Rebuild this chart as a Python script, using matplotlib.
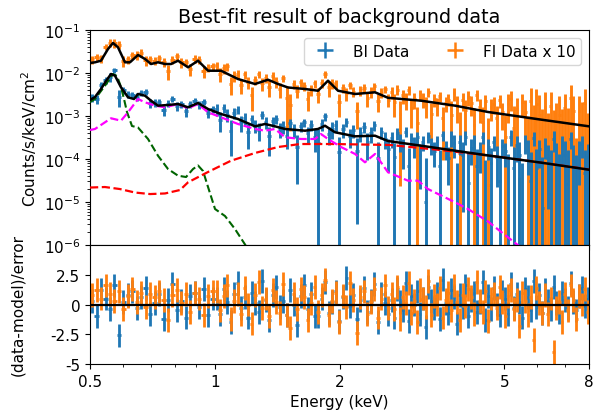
import numpy as np
import matplotlib
matplotlib.use("Agg")
import matplotlib.pyplot as plt
from matplotlib.ticker import FixedLocator, NullFormatter
from matplotlib.lines import Line2D

# ---------------- data ----------------
# bin centre energies (keV)
energy = [
    0.5062, 0.5189, 0.5319, 0.5452, 0.5589, 0.5729, 0.5873, 0.6020, 0.6171, 0.6326,
    0.6484, 0.6647, 0.6813, 0.6984, 0.7159, 0.7338, 0.7522, 0.7711, 0.7904, 0.8102,
    0.8305, 0.8513, 0.8726, 0.8945, 0.9169, 0.9399, 0.9634, 0.9876,
    1.0098, 1.0297, 1.0499, 1.0706, 1.0917, 1.1131, 1.1350, 1.1574, 1.1802, 1.2034,
    1.2271, 1.2512, 1.2758, 1.3009, 1.3265, 1.3526, 1.3792, 1.4064, 1.4341, 1.4623,
    1.4911, 1.5204, 1.5503, 1.5808, 1.6119, 1.6436, 1.6760, 1.7090, 1.7426, 1.7769,
    1.8118, 1.8475, 1.8838, 1.9209, 1.9587, 1.9972, 2.0365, 2.0766, 2.1174, 2.1591,
    2.2016, 2.2449, 2.2891, 2.3341, 2.3800, 2.4268, 2.4746, 2.5233, 2.5729, 2.6235,
    2.671, 2.714, 2.757, 2.800, 2.845, 2.890, 2.936, 2.983, 3.030, 3.078,
    3.127, 3.177, 3.228, 3.279, 3.331, 3.384, 3.438, 3.493, 3.548, 3.605,
    3.662, 3.720, 3.780, 3.840, 3.901, 3.963, 4.026, 4.090, 4.155, 4.222,
    4.289, 4.357, 4.427, 4.497, 4.569, 4.641, 4.715, 4.790, 4.866, 4.944,
    5.022, 5.102, 5.183, 5.266, 5.350, 5.435, 5.521, 5.609, 5.698, 5.789,
    5.881, 5.975, 6.070, 6.166, 6.265, 6.364, 6.465, 6.568, 6.673, 6.779,
    6.887, 6.996, 7.108, 7.221, 7.336, 7.452, 7.571, 7.691, 7.814, 7.938]

# BI data, units of 1e-3 counts/s/keV/cm2
bi_val = [
    2.68, 2.50, 5.32, 6.93, 8.09, 11.55, 2.77, 4.01, 3.21, 3.11,
    2.80, 3.49, 3.69, 1.98, 2.03, 2.07, 1.35, 1.94, 2.48, 1.70,
    1.90, 1.29, 1.90, 2.22, 1.86, 2.12, 1.20, 1.46,
    1.43, 0.82, 1.56, 1.08, 0.456, 1.19, 1.40, 0.71, 0.885, 0.415,
    0.84, 0.597, 0.475, 1.07, 0.738, 0.337, 0.758, 0.863, 0.50, 0.566,
    0.339, 0.693, 0.480, 0.191, 0.579, 0.711, 0.40, 0.626, 0.318, 0.23,
    0.643, 0.978, 0.388, 0.50, 0.619, 0.147, 0.488, 0.736, 0.340, 0.466,
    0.155, 0.401, 0.557, 0.251, 0.393, 0.614, 0.106, 0.430, 0.299, 0.172,
    0.3064, 0.1124, 0.4033, 0.2631, 0.1755, 0.4351, 0.0672, 0.2959, 0.2145, 0.3253,
    0.1232, 0.2511, 0.0098, 0.3367, 0.2164, 0.1566, 0.2613, 0.0705, 0.3536, 0.1772,
    0.1074, 0.3167, 0.2340, -0.0433, 0.2483, 0.1244, 0.3304, 0.0284, 0.1832, 0.2444,
    0.0691, 0.1508, 0.3205, -0.0050, 0.1900, 0.0811, 0.2472, 0.1141, 0.0312, 0.2053,
    0.1497, -0.0042, 0.3284, 0.0611, 0.2127, 0.1208, -0.0403, 0.2469, 0.1598, 0.0308,
    0.3096, 0.0622, 0.1679, 0.0072, 0.2017, 0.1072, 0.0151, 0.2952, 0.0866, -0.0141,
    0.2073, 0.1219, 0.0265, 0.2981, 0.0888, -0.0010, 0.1457, 0.2257, 0.0465, 0.1136]
bi_err = [
    0.51, 0.63, 0.86, 1.26, 1.76, 1.75, 1.16, 0.77, 0.55, 0.51,
    0.60, 0.62, 0.58, 0.47, 0.40, 0.35, 0.35, 0.36, 0.37, 0.38,
    0.36, 0.33, 0.33, 0.37, 0.39, 0.34, 0.29, 0.27,
    0.43, 0.40, 0.37, 0.35, 0.34, 0.32, 0.30, 0.28, 0.26, 0.24,
    0.22, 0.20, 0.21, 0.22, 0.23, 0.22, 0.21, 0.20, 0.19, 0.18,
    0.17, 0.17, 0.17, 0.165, 0.163, 0.160, 0.163, 0.167, 0.171, 0.28,
    0.19, 0.21, 0.18, 0.207, 0.186, 0.179, 0.173, 0.167, 0.160, 0.154,
    0.152, 0.153, 0.154, 0.155, 0.156, 0.157, 0.147, 0.138, 0.129, 0.121,
    0.1277, 0.1249, 0.1222, 0.1196, 0.1170, 0.1145, 0.1120, 0.1096, 0.1073, 0.1050,
    0.1027, 0.1005, 0.0983, 0.0962, 0.0941, 0.0921, 0.0901, 0.0882, 0.0863, 0.0844,
    0.0826, 0.1293, 0.1265, 0.1238, 0.1211, 0.1185, 0.1159, 0.1134, 0.1110, 0.1086,
    0.1063, 0.1040, 0.1018, 0.0996, 0.0974, 0.0954, 0.0933, 0.0913, 0.0893, 0.0874,
    0.0855, 0.1360, 0.1330, 0.1301, 0.1274, 0.1247, 0.1219, 0.1193, 0.1167, 0.1143,
    0.1118, 0.1093, 0.1070, 0.1047, 0.1024, 0.1002, 0.1508, 0.1476, 0.1444, 0.1414,
    0.1382, 0.1354, 0.1324, 0.1296, 0.1268, 0.1240, 0.1214, 0.1188, 0.1162, 0.1136]
bi_res = [
    0.3, -1.0, 1.2, 0.5, -0.4, 1.6, -2.6, 0.2, 0.8, 1.1,
    -0.3, 0.6, 1.4, -0.8, 0.1, 0.9, -1.2, 0.4, 1.7, -0.5,
    0.3, -1.1, 0.7, 1.0, -0.2, 1.3, -0.9, 0.5,
    0.5, -0.8, 1.3, 0.2, -1.5, 0.9, 1.8, -0.3, 0.6, -1.1,
    1.0, 0.1, -0.6, 2.0, 0.4, -1.3, 0.8, 1.5, -0.2, 0.3,
    -0.9, 1.2, 0.0, -1.7, 0.7, 1.6, -0.4, 0.9, -1.0, -1.0,
    0.5, 1.9, -0.7, 0.2, 1.1, -1.4, 0.6, 2.2, -0.1, 0.8,
    -1.2, 0.4, 1.4, -0.6, 0.3, 1.7, -1.5, 0.9, 0.1, -0.8,
    0.4, -1.1, 1.3, 0.2, -0.5, 1.8, -1.4, 0.7, 0.0, 1.1,
    -0.8, 0.5, -1.9, 1.5, 0.3, -0.3, 0.9, -1.2, 2.1, 0.1,
    -0.7, 1.2, 0.6, -1.6, 0.8, -0.2, 1.6, -1.0, 0.4, 1.0,
    -0.6, 0.2, 1.9, -1.3, 0.7, -0.4, 1.4, 0.0, -0.9, 1.1,
    0.5, -0.8, 1.7, -0.3, 0.9, 0.2, -1.1, 1.3, 0.6, -0.5,
    2.0, -0.2, 0.8, -0.7, 1.2, 0.3, -0.4, 1.5, 0.1, -0.6,
    1.0, 0.4, -0.3, 1.8, 0.2, -0.5, 0.7, 1.4, -0.1, 0.5]

# FI data, units of 1e-4 counts/s/keV/cm2 (plotted x 10)
fi_val = [
    20.9, 23.7, 21.9, 40.9, 50.3, 50.1, 45.5, 19.2, 20.8, 26.4,
    25.8, 29.8, 19.6, 20.7, 19.4, 22.3, 18.2, 10.9, 20.0, 24.3,
    17.7, 18.0, 12.4, 21.4, 20.6, 11.2, 13.4, 14.4,
    15.0, 9.6, 12.8, 14.3, 5.64, 8.74, 9.28, 5.24, 9.27, 6.18,
    3.04, 6.89, 9.26, 5.73, 7.71, 4.75, 8.53, 6.13, 4.24, 7.61,
    2.6, 1.82, 5.69, 3.88, 6.05, 5.04, 2.54, 4.18, 5.74, 3.23,
    5.89, 9.34, 4.63, 5.72, 5.67, 2.10, 4.45, 3.35, 5.28, 3.71,
    1.31, 3.93, 4.52, 2.61, 3.70, 4.93, 2.22, 3.53, 4.20, 2.41,
    3.619, 2.066, 4.131, 1.110, 2.998, 2.415, 4.091, 1.515, 2.456, 0.688,
    3.191, 2.483, 1.805, 3.688, 1.130, 2.445, 1.818, 2.900, 0.879, 2.010,
    2.417, 1.060, 3.381, 1.780, 0.138, 2.331, 1.360, 2.733, 1.988, 0.603,
    3.125, 1.588, 0.744, 2.223, 0.025, 1.624, 1.919, 0.909, 2.308, 1.256,
    0.324, 1.941, 2.518, 0.525, 1.464, -1.123, 2.081, 1.259, -0.072, 2.218,
    -0.4, 1.9, 1.038, -0.609, 1.6, -0.778, 1.712, -0.5, 0.182, 1.070,
    -0.3, 1.5, -0.167, 2.6, 1.28, -1.25, 1.3, 0.599, 2.0, -0.287]
fi_err = [
    4.35, 4.55, 4.88, 7.30, 10.3, 11.7, 8.9, 5.3, 4.4, 5.0,
    6.2, 6.0, 5.2, 4.2, 4.2, 4.4, 4.1, 4.1, 4.2, 4.7,
    4.3, 3.7, 3.7, 4.3, 4.6, 3.6, 2.9, 2.8,
    3.39, 3.39, 3.18, 2.90, 2.64, 2.41, 2.19, 2.07, 1.96, 1.85,
    1.76, 1.67, 1.77, 1.89, 2.01, 2.04, 1.88, 1.73, 1.61, 1.51,
    2.4, 1.37, 1.34, 1.32, 1.31, 1.28, 1.25, 1.22, 1.19, 1.18,
    1.43, 1.72, 1.90, 1.58, 1.31, 1.15, 1.10, 1.07, 1.03, 0.99,
    0.82, 1.00, 1.02, 1.03, 1.05, 1.07, 1.00, 0.92, 0.85, 0.80,
    1.159, 1.134, 1.110, 1.086, 1.062, 1.040, 1.017, 0.995, 0.974, 0.953,
    0.932, 0.912, 0.893, 0.873, 0.855, 0.837, 0.818, 0.801, 0.783, 0.766,
    0.750, 1.142, 1.117, 1.093, 1.070, 1.046, 1.023, 1.002, 0.980, 0.959,
    0.939, 0.918, 0.898, 0.879, 0.860, 0.842, 0.824, 0.806, 0.788, 0.771,
    0.755, 1.266, 1.238, 1.212, 1.187, 1.162, 1.135, 1.111, 1.087, 2.25,
    2.17, 2.4, 2.075, 2.030, 2.0, 1.945, 1.903, 1.9, 1.823, 1.783,
    1.74, 1.8, 1.670, 2.7, 1.600, 1.565, 1.6, 1.498, 2.2, 1.433]
fi_res = [
    0.8, 1.2, 0.5, 1.6, 0.9, 0.3, 1.1, -0.4, 0.7, 1.3,
    0.2, 1.0, -0.2, 0.9, 0.6, 1.1, 0.4, -1.3, 0.8, 1.2,
    0.1, 0.9, -0.6, 1.0, 0.5, -0.9, 0.7, 1.1,
    1.1, -0.5, 0.7, 1.6, -1.2, 0.3, 0.9, -0.8, 1.4, 0.0,
    -1.6, 0.8, 1.9, -0.3, 0.5, -1.0, 1.2, 0.2, -0.7, 1.7,
    -0.9, -2.0, 0.9, -0.4, 1.3, 0.6, -1.3, 0.1, 1.5, -0.6,
    0.8, 2.1, -0.9, 0.3, 1.0, -1.5, 0.7, -0.2, 1.8, 0.4,
    -2.4, 0.6, 1.1, -0.8, 0.2, 1.3, -1.1, 0.5, 1.6, -0.3,
    0.9, -0.4, 1.5, -1.2, 0.6, 0.1, 1.8, -0.7, 0.3, -1.5,
    1.2, 0.5, -0.2, 2.0, -0.9, 0.7, 0.0, 1.4, -1.1, 0.4,
    1.0, -0.5, 1.6, 0.2, -1.3, 0.8, -0.1, 1.3, 0.6, -0.8,
    1.9, 0.3, -0.6, 1.1, -1.4, 0.5, 0.9, -0.3, 1.5, 0.2,
    -1.0, 0.7, 1.2, -0.4, 0.4, -1.8, 1.0, 0.3, -0.9, 0.6,
    -3.0, 1.4, 0.1, -0.7, 0.8, -0.8, 0.5, -4.0, -0.3, 0.2,
    -1.5, 0.9, -0.5, 1.6, 0.4, -1.2, 0.7, 0.0, 1.3, -0.6]

# best-fit model curves
bi_model_e = [0.500, 0.5141, 0.5315, 0.5465, 0.5619, 0.5745, 0.5940, 0.6176, 0.6385, 0.6528,
              0.6788, 0.7018, 0.7296, 0.7713, 0.8155, 0.8621, 0.9114, 0.9634, 1.0353, 1.1379,
              1.2508, 1.3222, 1.3978, 1.4777, 1.6513, 1.7748, 1.8453, 1.9509, 2.1803, 2.4363,
              2.6189, 3.1458, 3.7999, 4.5643, 6.094, 8.0]
bi_model = [2.355e-3, 2.767e-3, 4.246e-3, 6.516e-3, 9.484e-3, 8.650e-3, 4.645e-3, 2.723e-3, 2.483e-3, 3.251e-3,
            2.965e-3, 2.270e-3, 1.738e-3, 1.803e-3, 1.901e-3, 1.592e-3, 2.004e-3, 1.455e-3, 1.114e-3, 8.51e-4,
            5.75e-4, 6.52e-4, 5.75e-4, 4.99e-4, 4.55e-4, 4.99e-4, 5.94e-4, 4.18e-4, 3.37e-4, 3.48e-4,
            2.62e-4, 2.04e-4, 1.56e-4, 1.21e-4, 8.30e-5, 5.64e-5]
fi_model_e = [0.500, 0.5141, 0.5315, 0.5526, 0.5682, 0.5841, 0.6073, 0.6244, 0.6528, 0.6788,
              0.7018, 0.7296, 0.7586, 0.7843, 0.8155, 0.8621, 0.9114, 0.9634, 1.0353, 1.1379,
              1.2508, 1.3444, 1.4213, 1.5025, 1.6513, 1.7748, 1.8763, 1.9837, 2.1803, 2.4363,
              2.6189, 3.1458, 3.7999, 4.5643, 6.094, 8.0]
# FI model, units of 1e-4 (plotted x 10)
fi_model = [17.10, 17.74, 19.32, 36.14, 49.89, 39.63, 17.74, 17.74, 26.24, 21.18,
            16.18, 17.74, 16.18, 16.18, 19.32, 13.58, 19.32, 11.30, 11.30, 7.24,
            5.55, 6.98, 5.55, 4.60, 4.25, 3.87, 6.62, 3.87, 3.25, 3.56,
            2.65, 2.27, 1.74, 1.24, 0.830, 0.575]

# model components (BI)
thermal_e = [0.500, 0.5141, 0.5619, 0.5940, 0.6176, 0.6528, 0.6788, 0.7175, 0.7586, 0.8155,
             0.8621, 0.9114, 0.9634, 1.0353, 1.1379, 1.2508, 1.3222, 1.3978, 1.4777, 1.6150,
             1.7454, 1.8046, 1.8763, 2.0170, 2.1803, 2.3039, 2.4363, 2.6189, 2.9262, 3.0929,
             3.2698, 3.7999, 4.0846, 4.5643, 5.0445, 5.3625, 6.094]
thermal = [4.72e-4, 4.99e-4, 8.85e-4, 7.78e-4, 1.22e-3, 2.48e-3, 2.08e-3, 1.74e-3, 1.59e-3, 1.90e-3,
           1.51e-3, 1.90e-3, 1.22e-3, 9.33e-4, 6.52e-4, 4.99e-4, 4.55e-4, 4.99e-4, 3.20e-4, 2.92e-4,
           2.92e-4, 3.81e-4, 2.92e-4, 1.90e-4, 1.31e-4, 8.38e-5, 1.31e-4, 4.91e-5, 3.13e-5, 3.13e-5,
           2.00e-5, 9.84e-6, 6.87e-6, 3.52e-6, 1.64e-6, 1.03e-6, 4.25e-7]
powerlaw_e = [0.500, 0.5434, 0.5907, 0.6420, 0.6979, 0.7586, 0.8246, 0.8621, 0.9634, 1.0945,
              1.2508, 1.4213, 1.5025, 1.6061, 1.9272, 2.6482, 3.4970, 4.5643, 6.094, 8.0]
powerlaw = [2.17e-5, 2.23e-5, 2.00e-5, 1.66e-5, 1.53e-5, 1.58e-5, 1.90e-5, 2.87e-5, 4.99e-5, 9.12e-5,
            1.38e-4, 1.90e-4, 2.04e-4, 2.23e-4, 2.23e-4, 2.12e-4, 1.62e-4, 1.21e-4, 8.30e-5, 5.70e-5]
lines_e = [0.500, 0.5141, 0.5434, 0.5682, 0.5809, 0.5940, 0.6040, 0.6141, 0.6314, 0.6528,
           0.6902, 0.7296, 0.7713, 0.8155, 0.8526, 0.8864, 0.9114, 0.9369, 0.9634, 1.0016,
           1.0586, 1.1191, 1.1830, 1.2508]
lines = [2.12e-3, 2.48e-3, 5.07e-3, 9.48e-3, 8.51e-3, 4.72e-3, 2.48e-3, 1.24e-3, 5.85e-4, 5.40e-4,
         2.92e-4, 1.19e-4, 5.85e-5, 4.09e-5, 3.81e-5, 5.85e-5, 7.06e-5, 5.26e-5, 2.23e-5, 6.87e-6,
         4.72e-6, 2.35e-6, 1.03e-6, 4.25e-7]

xticks = [0.5, 1, 2, 5, 8]
xtick_labels = ['0.5', '1', '2', '5', '8']
xminor = [0.6, 0.7, 0.8, 0.9, 3, 4, 6, 7]
rticks = [-5, -2.5, 0, 2.5]
rtick_labels = ['-5', '-2.5', '0', '2.5']

# ---------------- plotting ----------------
BLUE = '#1f77b4'
ORANGE = '#ff7f0e'
FS = 11

E = np.array(energy)
mids = np.sqrt(E[:-1] * E[1:])
lo = np.concatenate([[0.5], mids])
hi = np.concatenate([mids, [8.0]])
xerr = np.vstack([E - lo, hi - E])

bi = np.array(bi_val) * 1e-3
bie = np.array(bi_err) * 1e-3
fi10 = np.array(fi_val) * 1e-4 * 10
fie10 = np.array(fi_err) * 1e-4 * 10

fig = plt.figure(figsize=(5.93, 4.14), dpi=100)
W, H = 593.0, 414.0
ax1 = fig.add_axes([90 / W, 1 - 246 / H, 499 / W, 215 / H])
ax2 = fig.add_axes([90 / W, 1 - 365 / H, 499 / W, 119 / H], sharex=ax1)

ax1.set_xscale('log')
ax1.set_yscale('log')

ax1.errorbar(E, fi10, xerr=xerr, yerr=fie10, fmt='none', ecolor=ORANGE,
             elinewidth=2.1, zorder=2)
ax1.errorbar(E, bi, xerr=xerr, yerr=bie, fmt='none', ecolor=BLUE,
             elinewidth=2.1, zorder=2.5)

ax1.plot(lines_e, lines, color='darkgreen', ls='--', lw=1.5, zorder=4)
ax1.plot(powerlaw_e, powerlaw, color='red', ls='--', lw=1.6, zorder=4)
ax1.plot(thermal_e, thermal, color='magenta', ls='--', lw=1.6, zorder=4)
ax1.plot(bi_model_e, bi_model, color='black', lw=1.8, zorder=5)
ax1.plot(fi_model_e, np.array(fi_model) * 1e-4 * 10, color='black', lw=1.8, zorder=5)

ax1.set_xlim(0.5, 8)
ax1.set_ylim(1e-6, 1e-1)
ax1.set_ylabel('Counts/s/keV/cm$^2$', fontsize=FS)
ax1.set_title('Best-fit result of background data', fontsize=13.8)
ax1.tick_params(labelbottom=False, labelsize=FS)

h_bi = Line2D([], [], color=BLUE, marker='+', ls='none', markersize=12, mew=1.8)
h_fi = Line2D([], [], color=ORANGE, marker='+', ls='none', markersize=12, mew=1.8)
ax1.legend([h_bi, h_fi], ['BI Data', 'FI Data x 10'], loc='upper right', ncol=2,
           fontsize=FS)

ax2.errorbar(E, bi_res, xerr=xerr, yerr=np.ones(len(E)), fmt='none', ecolor=BLUE,
             elinewidth=2.0, zorder=2)
ax2.errorbar(E, fi_res, xerr=xerr, yerr=np.ones(len(E)), fmt='none', ecolor=ORANGE,
             elinewidth=2.0, zorder=2.5)
ax2.axhline(0, color='black', lw=1.6, zorder=5)
ax2.set_ylim(-5, 5)
ax2.set_yticks(rticks)
ax2.set_yticklabels(rtick_labels)
ax2.xaxis.set_major_locator(FixedLocator(xticks))
ax2.xaxis.set_minor_locator(FixedLocator(xminor))
ax2.xaxis.set_minor_formatter(NullFormatter())
ax2.set_xticklabels(xtick_labels)
ax2.set_xlim(0.5, 8)
ax2.tick_params(labelsize=FS)
ax2.set_xlabel('Energy (keV)', fontsize=FS)
ax2.set_ylabel('(data-model)/error', fontsize=FS)

ax1.yaxis.set_label_coords(-0.103, 0.5)
ax2.yaxis.set_label_coords(-0.13, 0.5)

fig.savefig('out.png', dpi=100)
